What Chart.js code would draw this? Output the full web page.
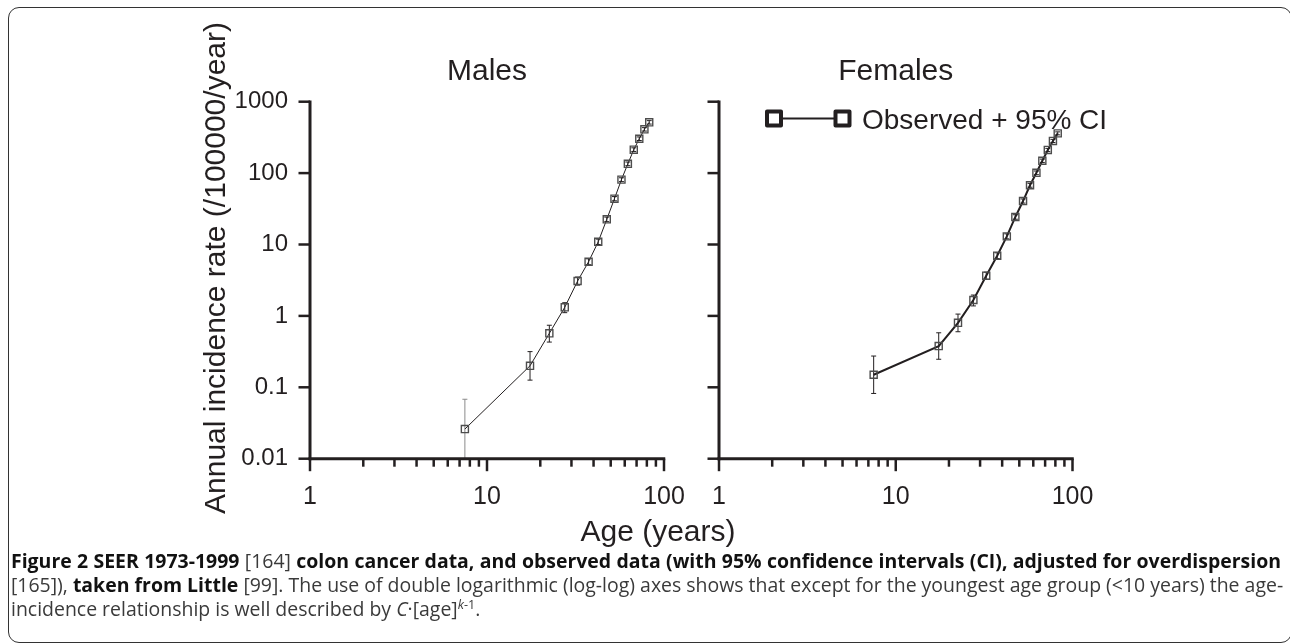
<!DOCTYPE html>
<html>
<head>
<meta charset="utf-8">
<script src="https://cdn.jsdelivr.net/npm/chart.js@4.4.0/dist/chart.umd.min.js"></script>
<style>
html,body{margin:0;padding:0;background:#fff;}
#wrap{position:relative;width:1290px;height:644px;overflow:hidden;background:#fff;font-family:"Liberation Sans",Arial,sans-serif;}
canvas{position:absolute;left:0;top:0;}
#frame{position:absolute;left:8px;top:7px;width:1283.5px;height:636px;border:1.5px solid #333;border-radius:11px;box-sizing:border-box;}
.ytitle{position:absolute;left:214.6px;top:268px;width:600px;height:30px;line-height:30px;font-size:30px;text-align:center;transform:translate(-50%,-50%) rotate(-90deg);color:#231f20;white-space:nowrap;}
.xtitle{position:absolute;left:658px;top:516.3px;transform:translateX(-50%);font-size:30px;line-height:30px;color:#231f20;white-space:nowrap;}
#caption{position:absolute;left:11px;top:548.6px;width:1270px;font-family:"Open Sans",sans-serif;font-size:16.5px;line-height:24px;color:#3a3a3a;}
#caption .ln{white-space:nowrap;}
#caption .just{text-align:justify;text-align-last:justify;}
#caption b{color:#111;font-weight:700;}
#caption sup{font-size:0.65em;line-height:0;vertical-align:0.55em;}
</style>
</head>
<body>
<div id="wrap">
  <div id="frame"></div>
  <canvas id="males" width="1290" height="644"></canvas>
  <canvas id="females" width="1290" height="644"></canvas>
  <div class="ytitle">Annual incidence rate (/100000/year)</div>
  <div class="xtitle">Age (years)</div>
  <div id="caption">
    <div class="ln just" id="cl1"><b>Figure 2 SEER 1973-1999</b> [164] <b>colon cancer data, and observed data (with 95% confidence intervals (CI), adjusted for overdispersion</b></div>
    <div class="ln just" id="cl2">[165]), <b>taken from Little</b> [99]. The use of double logarithmic (log-log) axes shows that except for the youngest age group (&lt;10 years) the age-</div>
    <div class="ln" id="cl3">incidence relationship is well described by <i>C</i>·[age]<sup><i>k</i>-1</sup>.</div>
  </div>
</div>
<script>
// ---- data ----
const ages = [7.5, 17.5, 22.5, 27.5, 32.5, 37.5, 42.5, 47.5, 52.5, 57.5, 62.5, 67.5, 72.5, 77.5, 82.5];

const maleRate = [0.026, 0.20, 0.57, 1.32, 3.08, 5.74, 10.9, 22.5, 43.8, 81, 135, 213, 303, 410, 514];
const maleLow  = [0.004, 0.126, 0.43, 1.11, 2.70, 5.20, 10.0, 20.9, 40.9, 76, 127, 201, 286, 388, 486];
const maleHigh = [0.068, 0.316, 0.74, 1.53, 3.50, 6.30, 11.9, 24.2, 46.9, 86, 143, 226, 321, 433, 543];

const femaleRate = [0.15, 0.378, 0.80, 1.67, 3.66, 6.97, 13.0, 24.3, 40.6, 67.5, 101, 149, 211, 282, 360];
const femaleLow  = [0.082, 0.247, 0.60, 1.38, 3.25, 6.35, 12.0, 22.6, 38.0, 63.4, 95, 141, 200, 268, 343];
const femaleHigh = [0.274, 0.58, 1.06, 1.96, 4.10, 7.65, 14.1, 26.1, 43.4, 71.8, 107, 157, 222, 297, 378];

const xMajorTicks = [1, 10, 100];
const xTickLabels = ['1', '10', '100'];
const xMinorTicks = [2, 3, 4, 5, 6, 7, 8, 9, 20, 30, 40, 50, 60, 70, 80, 90];
const yTicks = [0.01, 0.1, 1, 10, 100, 1000];
const yTickLabels = ['0.01', '0.1', '1', '10', '100', '1000'];

const panelTitles = ['Males', 'Females'];
const legendLabel = 'Observed + 95% CI';

// ---- drawing ----
const INK = '#231f20';

const decorPlugin = {
  id: 'panelDecor',
  beforeDatasetsDraw(chart, args, o) {
    const {ctx, scales: {x, y}, chartArea} = chart;
    ctx.save();
    ctx.beginPath();
    ctx.rect(chartArea.left, chartArea.top - 12, chartArea.right - chartArea.left, chartArea.bottom - chartArea.top + 12);
    ctx.clip();
    ctx.lineWidth = 1;
    ages.forEach((a, i) => {
      const px = x.getPixelForValue(a);
      const yl = y.getPixelForValue(o.low[i]);
      const yh = y.getPixelForValue(o.high[i]);
      ctx.strokeStyle = (i === 0 && o.firstBarColor) ? o.firstBarColor : INK;
      ctx.beginPath();
      ctx.moveTo(px, yl); ctx.lineTo(px, yh);
      ctx.moveTo(px - 2.5, yh); ctx.lineTo(px + 2.5, yh);
      if (yl < chartArea.bottom) { ctx.moveTo(px - 2.5, yl); ctx.lineTo(px + 2.5, yl); }
      ctx.stroke();
    });
    ctx.restore();
  },
  afterDraw(chart, args, o) {
    const {ctx, scales: {x, y}} = chart;
    const left = x.getPixelForValue(xMajorTicks[0]);
    const right = x.getPixelForValue(xMajorTicks[xMajorTicks.length - 1]);
    const top = y.getPixelForValue(yTicks[yTicks.length - 1]);
    const bottom = y.getPixelForValue(yTicks[0]);
    ctx.save();
    ctx.strokeStyle = INK;
    ctx.lineCap = 'butt';
    ctx.lineWidth = 3;
    ctx.beginPath(); ctx.moveTo(left, top - 1.25); ctx.lineTo(left, bottom + 1.5); ctx.stroke();
    ctx.beginPath(); ctx.moveTo(left - 1.5, bottom); ctx.lineTo(right + 1.25, bottom); ctx.stroke();
    ctx.lineWidth = 2.5;
    yTicks.forEach(v => {
      const py = y.getPixelForValue(v);
      ctx.beginPath(); ctx.moveTo(left - 11.5, py); ctx.lineTo(left, py); ctx.stroke();
    });
    xMajorTicks.forEach(v => {
      const px = x.getPixelForValue(v);
      ctx.beginPath(); ctx.moveTo(px, bottom); ctx.lineTo(px, bottom + 12.5); ctx.stroke();
    });
    xMinorTicks.forEach(v => {
      const px = x.getPixelForValue(v);
      ctx.beginPath(); ctx.moveTo(px, bottom); ctx.lineTo(px, bottom + 8); ctx.stroke();
    });
    // panel title
    ctx.fillStyle = INK;
    ctx.font = '30px "Liberation Sans", Arial, sans-serif';
    ctx.textAlign = 'center';
    ctx.textBaseline = 'alphabetic';
    ctx.fillText(o.title, (left + right) / 2, 79.5);
    // legend
    if (o.legend) {
      const ly = 118.5, x1 = 774, x2 = 842.5;
      ctx.lineWidth = 2;
      ctx.beginPath(); ctx.moveTo(x1 + 8, ly); ctx.lineTo(x2 - 8, ly); ctx.stroke();
      ctx.lineWidth = 4;
      ctx.lineJoin = 'round';
      ctx.strokeRect(x1 - 7, ly - 7, 14, 14);
      ctx.strokeRect(x2 - 7, ly - 7, 14, 14);
      ctx.font = '28px "Liberation Sans", Arial, sans-serif';
      ctx.textAlign = 'left';
      ctx.fillText(o.legendText, 862, 129.3);
    }
    ctx.restore();
  }
};

function fmtY(v) {
  const i = yTicks.findIndex(t => Math.abs(Math.log10(t) - Math.log10(v)) < 1e-6);
  return i >= 0 ? yTickLabels[i] : '';
}
function fmtX(v) {
  const i = xMajorTicks.findIndex(t => Math.abs(Math.log10(t) - Math.log10(v)) < 1e-6);
  return i >= 0 ? xTickLabels[i] : '';
}

function makePanel(id, rate, low, high, o) {
  const Y_AXIS_W = 110, X_AXIS_H = 50;
  return new Chart(document.getElementById(id), {
    type: 'scatter',
    data: {
      datasets: [{
        data: ages.map((a, i) => ({x: a, y: rate[i]})),
        showLine: true,
        borderColor: INK,
        borderWidth: o.lineWidth,
        pointStyle: 'rect',
        pointRadius: 5,
        pointBorderWidth: 1.4,
        pointBorderColor: '#4d4d4d',
        pointBackgroundColor: 'rgba(255,255,255,0)',
        tension: 0
      }]
    },
    options: {
      responsive: false,
      animation: false,
      devicePixelRatio: 1,
      events: [],
      layout: {padding: {left: o.left - Y_AXIS_W, right: 1290 - o.right, top: 101.7, bottom: 644 - 458.7 - X_AXIS_H}},
      plugins: {
        legend: {display: false},
        tooltip: {enabled: false},
        title: {display: false},
        panelDecor: {low: low, high: high, title: o.title, legend: o.legend, legendText: legendLabel, firstBarColor: o.firstBarColor}
      },
      scales: {
        x: {
          type: 'logarithmic', min: 1, max: 100,
          afterBuildTicks: s => { s.ticks = xMajorTicks.map(v => ({value: v, major: true})); },
          afterFit: s => { s.height = X_AXIS_H; },
          grid: {display: false, drawTicks: false},
          border: {display: false},
          ticks: {autoSkip: false, maxRotation: 0, padding: 23, color: INK,
                  font: {family: '"Liberation Sans", Arial, sans-serif', size: 25},
                  callback: v => fmtX(v)}
        },
        y: {
          type: 'logarithmic', min: 0.01, max: 1000,
          afterBuildTicks: s => { s.ticks = yTicks.map(v => ({value: v, major: true})); },
          afterFit: s => { s.width = Y_AXIS_W; },
          grid: {display: false, drawTicks: false},
          border: {display: false},
          ticks: {display: o.showYLabels, autoSkip: false, padding: 22, color: INK,
                  font: {family: '"Liberation Sans", Arial, sans-serif', size: 24},
                  callback: v => fmtY(v)}
        }
      }
    },
    plugins: [decorPlugin]
  });
}

makePanel('males', maleRate, maleLow, maleHigh,
  {left: 310, right: 664, title: panelTitles[0], lineWidth: 1, showYLabels: true, legend: false, firstBarColor: '#8a8a8a'});
makePanel('females', femaleRate, femaleLow, femaleHigh,
  {left: 719, right: 1072.5, title: panelTitles[1], lineWidth: 2, showYLabels: false, legend: true, firstBarColor: null});

// fit caption font so the first line fills the frame width naturally
(function fitCaption() {
  const cap = document.getElementById('caption');
  const l1 = document.getElementById('cl1');
  const probe = document.createElement('span');
  probe.style.whiteSpace = 'nowrap';
  probe.innerHTML = l1.innerHTML;
  cap.appendChild(probe);
  const w = probe.getBoundingClientRect().width;
  cap.removeChild(probe);
  const fs = 16.5 * 1266 / w;
  cap.style.fontSize = fs.toFixed(2) + 'px';
})();
</script>
</body>
</html>
